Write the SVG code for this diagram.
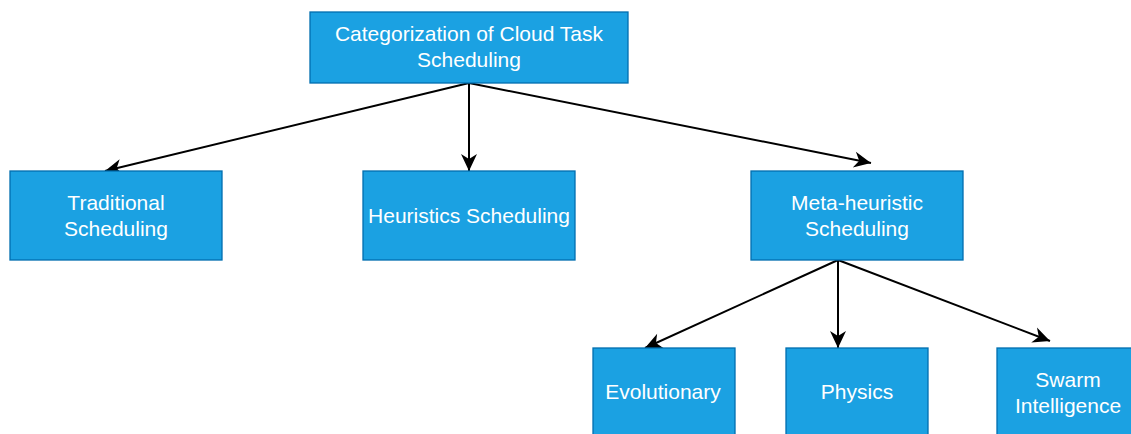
<svg xmlns="http://www.w3.org/2000/svg" width="1131" height="434" viewBox="0 0 1131 434">
<style>
.box{fill:#1ba1e2;stroke:#006eaf;stroke-width:1.3}
.t{font-family:"Liberation Sans",Arial,sans-serif;font-size:21px;fill:#ffffff;text-anchor:middle}
.e{fill:none;stroke:#000;stroke-width:2}
</style>
<defs>
<marker id="b" viewBox="-18 -9 19 18" refX="0" refY="0" markerWidth="19" markerHeight="18" markerUnits="userSpaceOnUse" orient="auto">
<path d="M0,0 L-17,-8 L-12,0 L-17,8 Z" fill="#000"/>
</marker>
</defs>
<rect width="1131" height="434" fill="#ffffff"/>
<g id="connectors">
<line class="e" x1="469" y1="83" x2="105" y2="171" marker-end="url(#b)"/>
<line class="e" x1="469" y1="83" x2="469" y2="171" marker-end="url(#b)"/>
<line class="e" x1="469" y1="83" x2="871" y2="163" marker-end="url(#b)"/>
<line class="e" x1="838" y1="260" x2="645" y2="348" marker-end="url(#b)"/>
<line class="e" x1="838" y1="260" x2="838" y2="348" marker-end="url(#b)"/>
<line class="e" x1="838" y1="260" x2="1050" y2="341" marker-end="url(#b)"/>
</g>
<g id="root">
<rect class="box" x="310" y="12" width="318" height="71"/>
<text class="t" x="469" y="41">Categorization of Cloud Task</text>
<text class="t" x="469" y="67">Scheduling</text>
</g>
<g id="traditional">
<rect class="box" x="10" y="171" width="212" height="89"/>
<text class="t" x="116" y="210">Traditional</text>
<text class="t" x="116" y="236">Scheduling</text>
</g>
<g id="heuristics">
<rect class="box" x="363" y="171" width="212" height="89"/>
<text class="t" x="469" y="223">Heuristics Scheduling</text>
</g>
<g id="meta">
<rect class="box" x="751" y="171" width="212" height="89"/>
<text class="t" x="857" y="210">Meta-heuristic</text>
<text class="t" x="857" y="236">Scheduling</text>
</g>
<g id="evolutionary">
<rect class="box" x="593" y="348" width="142" height="90"/>
<text class="t" x="663" y="399">Evolutionary</text>
</g>
<g id="physics">
<rect class="box" x="786" y="348" width="142" height="90"/>
<text class="t" x="857" y="399">Physics</text>
</g>
<g id="swarm">
<rect class="box" x="997" y="348" width="142" height="90"/>
<text class="t" x="1068" y="387">Swarm</text>
<text class="t" x="1068" y="413">Intelligence</text>
</g>
</svg>
